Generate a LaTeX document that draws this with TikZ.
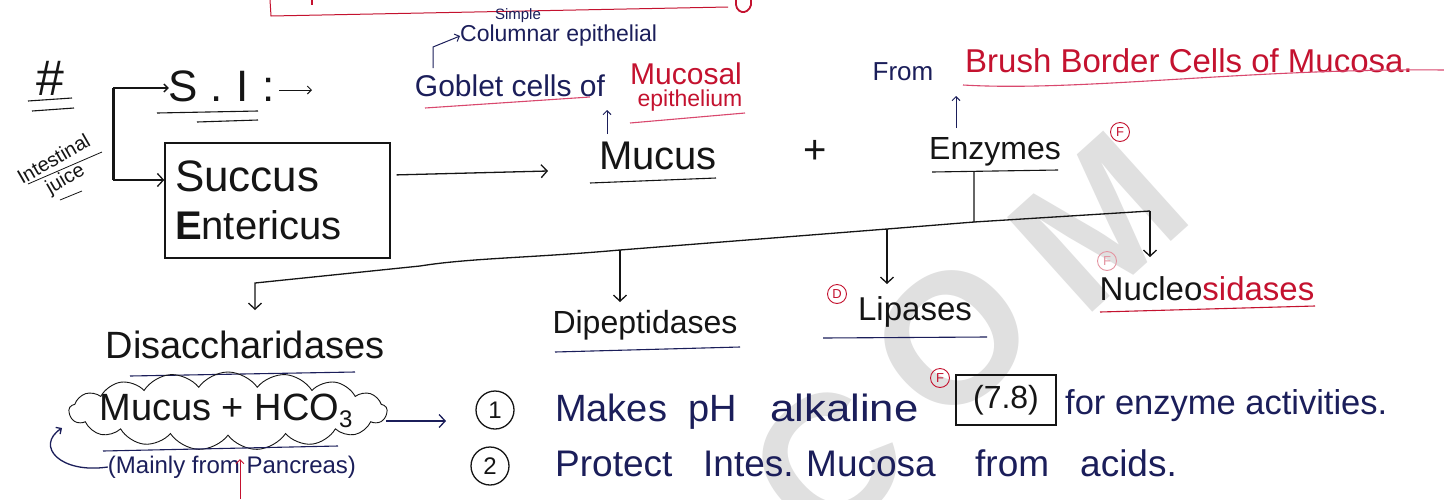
\documentclass[tikz,border=0pt]{standalone}
\usepackage{fontspec}
\setmainfont{Liberation Sans}
\usetikzlibrary{arrows.meta,shapes.symbols,calc}
\definecolor{ink}{HTML}{151515}
\definecolor{blueink}{HTML}{1B1E5A}
\definecolor{redink}{HTML}{C4122F}
\definecolor{pinkline}{HTML}{D9486E}
\definecolor{wmark}{HTML}{E0E0E0}
\newcommand{\fs}[1]{\fontsize{#1}{#1}\selectfont}
\begin{document}
\begin{tikzpicture}[x=1pt,y=-1pt,
  txt/.style={inner sep=0pt, text=ink},
  arr/.style={-{Straight Barb[length=6pt,width=13pt]}, line width=1.3pt, draw=ink},
  sarr/.style={-{Straight Barb[length=4pt,width=8pt]}, line width=1pt},
  ul/.style={line width=1.1pt},
  circF/.style={circle, draw=redink, text=redink, inner sep=0pt, minimum size=19pt, line width=0.9pt, font=\fs{13}},
  numc/.style={circle, draw=ink, line width=1.3pt, minimum size=38pt, inner sep=0pt, font=\fs{24}, text=ink},
  wm/.style={rotate=42, text=wmark, font=\fs{185}\bfseries, inner sep=0pt},
  line/.style={txt, text=blueink, anchor=base west}
]
\fill[white] (0,0) rectangle (1444,499);
\useasboundingbox (0,0) rectangle (1444,499);
% watermark
\begin{scope}
\clip (0,0) rectangle (1444,499);
\node[wm] (wm1) at (1098,222) {M};
\node[wm] (wm2) at (952,338) {O};
\node[wm] (wm3) at (828,462) {C};
\end{scope}
% red box at top (partial)
\draw[redink, line width=1pt] (270,0) -- (271,16) -- (728,7);
\draw[redink, line width=1.6pt] (312,0) -- (312,5);
\draw[redink, line width=1.8pt] (736,0) .. controls (734,14) and (748,16) .. (751,5) -- (751,0);

% hash and bracket
\node[txt, font=\fs{50}] (hash) at (50,78) {\#};
\draw[ul, ink] (28,101) -- (72,98);
\draw[ul, ink] (32,111) -- (74,108);
\node[txt, font=\fs{20}, rotate=30, align=center] (ij) at (60,170) {Intestinal\\[2pt]juice};
\draw[line width=0.8pt, ink] (28,184) -- (102,152);
\draw[line width=0.8pt, ink] (60,200) -- (82,191);

\node[txt, font=\fs{44}] (si) at (222,86) {S\hspace{12pt}.\hspace{14pt}I\hspace{14pt}:};
\draw[ul, ink] (157,113) -- (258,111);
\draw[ul, ink] (197,122) -- (258,120);
\coordinate (siarr) at (312,90);
\draw[sarr, ink] ([xshift=4pt,yshift=-4pt]si.east) -- (siarr);

\node[draw=ink, line width=1.4pt, minimum width=225pt, minimum height=115pt,
      text width=205pt, align=left, font=\fs{40}, inner sep=6pt, text=ink] (succus) at (277.5,200.5)
      {{\fs{44}Succus}\\[8pt]\textbf{E}ntericus};

\coordinate (brv1) at (113,88);
\coordinate (brv2) at (113,180);
\draw[line width=3pt, ink] (brv1) -- (brv2);
\draw[sarr, ink, line width=1.4pt] (brv1) -- (brv1 -| si.west);
\draw[arr] (brv2) -- (brv2 -| succus.west);

% mucus
\node[txt, font=\fs{40}] (mucus) at (658,156) {Mucus};
\draw[ul, ink] (590,183) -- (716,178);
\coordinate (sa) at ($(succus.north east)!0.28!(succus.south east)$);
\coordinate (ma) at (548,171);
\draw[arr] ([xshift=6pt]sa) -- (ma);
\node[txt, font=\fs{40}] (plus) at (815,152) {+};

% goblet cells
\node[txt, font=\fs{30}, text=blueink] (goblet) at (510,86) {Goblet cells of};
\draw[ul, pinkline] (425,108) -- (590,97);
\node[txt, font=\fs{30}, text=redink] (mucosal) at (686,74) {Mucosal};
\node[txt, font=\fs{23}, text=redink] (epi) at (690,101) {epithelium};
\draw[ul, pinkline] (630,123) -- (745,113);
\coordinate (mu1) at (607,134);
\coordinate (mu2) at (607,110);
\draw[sarr, draw=blueink] (mu1) -- (mu2);
\node[txt, font=\fs{15}, text=blueink] (simple) at (518,16) {Simple};
\node[txt, font=\fs{23}, text=blueink, anchor=west] (colum) at (460,36) {Columnar epithelial};
\coordinate (gb1) at (433,68);
\draw[sarr, draw=blueink] (gb1) -- (433,47) -- (colum.west);

% enzymes
\node[txt, font=\fs{32}] (enz) at (995,152) {Enzymes};
\draw[ul, ink] (932,172) -- (1058,170);
\node[circF] (fE) at (1120,132) {F};
\node[txt, font=\fs{26}, text=blueink] (from) at (903,72) {From};
\node[txt, font=\fs{33}, text=redink, anchor=west] (brush) at (965,61) {Brush Border Cells of Mucosa.};
\draw[ul, pinkline] (963,85) .. controls (1080,92) and (1250,68) .. (1444,70);
\coordinate (eu1) at (956,128);
\coordinate (eu2) at (956,96);
\draw[sarr, draw=blueink] (eu1) -- (eu2);

% branches
\coordinate (e0) at (974,172);
\coordinate (j0) at (974,222);
\coordinate (jr) at (1150,211);
\coordinate (nuA) at (1150,257);
\coordinate (jlp) at (887,229);
\coordinate (lpA) at (887,284);
\coordinate (jd) at (620,250);
\coordinate (dpA) at (620,302);
\coordinate (jl) at (255,283);
\coordinate (dsA) at (255,310);
\draw[line width=1.3pt, ink] (e0) -- (j0) -- (jr);
\draw[arr] (jr) -- (nuA);
\draw[arr] (j0) -- (jlp) -- (jd) .. controls (530,258) and (470,258) .. (420,266) -- (jl) -- (dsA);
\draw[arr] (jlp) -- (lpA);
\draw[arr] (jd) -- (dpA);

\node[txt, font=\fs{38}] (dis) at (245,345) {Disaccharidases};
\draw[ul, blueink] (130,376) -- (355,372);
\node[txt, font=\fs{32}] (dip) at (645,325) {Dipeptidases};
\draw[ul, blueink] (555,352) -- (740,347);
\node[txt, font=\fs{33}] (lip) at (915,312) {Lipases};
\draw[ul, blueink] (823,338) -- (987,337);
\node[circF] (fD) at (837,294) {D};
\node[txt, font=\fs{33}] (nuc) at (1207,289) {Nucleo\textcolor{redink}{sidases}};
\draw[ul, redink] (1100,312) -- (1315,306);
\node[circF, draw=redink!45, text=redink!45] (fN) at (1107,261) {F};

% mucus + HCO3
\node[cloud, draw=ink, cloud puffs=17, cloud puff arc=110, cloud ignores aspect,
      minimum width=318pt, minimum height=78pt, line width=0.9pt] (cloud) at (228,411) {};
\node[txt, font=\fs{38}] (mh) at (226,411) {Mucus + HCO{\fs{24}\raisebox{-7pt}{3}}};
\draw[ul, blueink] (103,451) -- (338,446);
\node[txt, font=\fs{24}, text=blueink] (mp) at (232,467) {(Mainly from Pancreas)};
\coordinate (ra1) at (240,499);
\coordinate (ra2) at (240,459);
\draw[sarr, draw=redink] (ra1) -- (ra2);
\coordinate (lc) at (62,428);
\draw[sarr, draw=blueink, line width=1.3pt] (mp.west) .. controls (60,474) and (35,446) .. (lc);

\node[numc] (n1) at (495,410) {1};
\node[numc] (n2) at (490,466) {2};
\coordinate (ca1) at (386,421);
\coordinate (ca2) at (446,421);
\draw[arr, draw=blueink] (ca1) -- (ca2);

\node[line, font=\fs{38}] (l1a) at (555,421) {Makes};
\node[line, font=\fs{38}] (l1b) at (688,421) {pH};
\node[line, font=\fs{38}] (l1c) at (770,421) {\scalebox{1.15}[1]{alkaline}};
\node[circF] (fA) at (940,378) {F};
\node[draw=ink, line width=1.3pt, font=\fs{32}, minimum width=100pt, minimum height=50pt, inner sep=2pt, text=ink] (ph) at (1006,400) {(7.8)};
\node[line, font=\fs{34.5}] (l1d) at (1065,414) {for enzyme activities.};
\node[line, font=\fs{37}] (l2a) at (555,476) {Protect};
\node[line, font=\fs{37}] (l2b) at (703,476) {Intes.};
\node[line, font=\fs{37}] (l2c) at (806,476) {Mucosa};
\node[line, font=\fs{37}] (l2d) at (975,476) {from};
\node[line, font=\fs{37}] (l2e) at (1080,476) {acids.};
\end{tikzpicture}
\end{document}
